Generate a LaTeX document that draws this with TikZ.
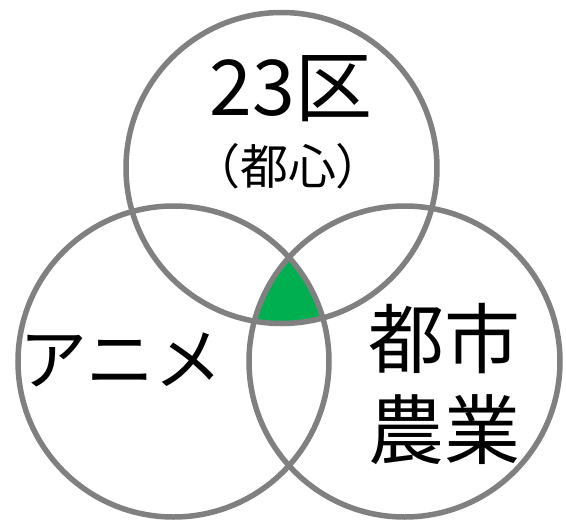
\documentclass[tikz,border=0pt]{standalone}
\usepackage{fontspec}
\setmainfont{Noto Sans CJK JP}
\begin{document}
\begin{tikzpicture}[
x=1pt,
y=-1pt,
ring/.style={
draw=ringgray,
line width=5.5pt,
},
label/.style={
inner sep=0pt,
align=center,
},
]
\definecolor{ringgray}{RGB}{128,128,128}
\definecolor{coregreen}{RGB}{0,176,80}
\useasboundingbox (0,0) rectangle (566,520);

\coordinate (top) at (281.5,168);
\coordinate (left) at (173.5,361.5);
\coordinate (right) at (404.5,361.5);

\begin{scope}
\clip (top) circle [radius=155.5pt];
\clip (left) circle [radius=155.5pt];
\fill[coregreen] (right) circle [radius=155.5pt];
\end{scope}

\draw[ring] (top) circle [radius=155.5pt];
\draw[ring] (left) circle [radius=155.5pt];
\draw[ring] (right) circle [radius=155.5pt];

\node[label, font=\fontsize{77}{80}\selectfont] at (291,89) (ku) {23区};
\node[label, font=\fontsize{48}{52}\selectfont] at (288,166) (toshin) {（都心）};
\node[label, font=\fontsize{68}{72}\selectfont] at (121,360) (anime) {アニメ};
\node[label, font=\fontsize{76}{92}\selectfont] at (444,384) (nogyo) {都市\\農業};

\end{tikzpicture}
\end{document}
